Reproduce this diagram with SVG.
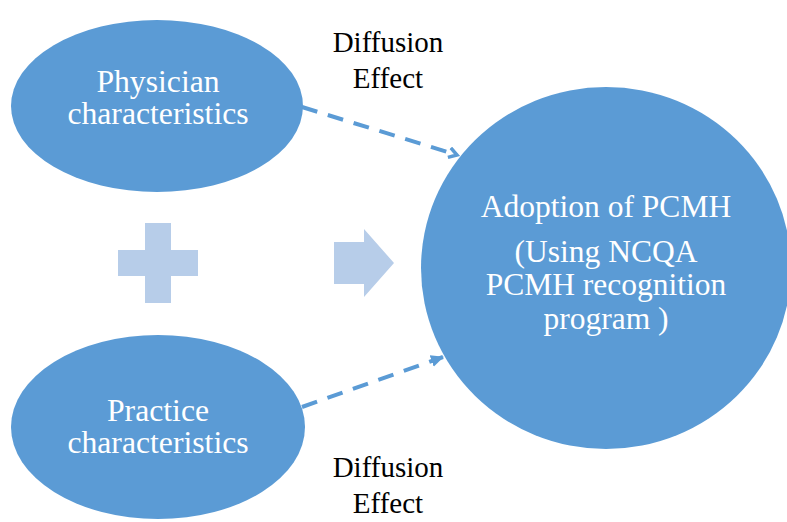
<svg xmlns="http://www.w3.org/2000/svg" width="787" height="522" viewBox="0 0 787 522">
  <style>
    .node { fill: #5b9bd5; }
    text { font-family: "Liberation Serif", "Times New Roman", serif; text-anchor: middle; }
    .label { fill: #ffffff; font-size: 31.7px; }
    .label-big { fill: #ffffff; font-size: 31.5px; }
    .edge-label { fill: #000000; font-size: 29px; }
    .link { stroke: #5b9bd5; stroke-width: 4; fill: none; stroke-dasharray: 16 11; }
    .deco { fill: #b7cde9; }
  </style>
  <defs>
    <marker id="open-arrow" markerWidth="12" markerHeight="12" refX="9" refY="6" orient="auto" markerUnits="userSpaceOnUse">
      <path d="M1,1 L9,6 L1,11" fill="none" stroke="#5b9bd5" stroke-width="3.5"/>
    </marker>
    <marker id="solid-arrow" markerWidth="14" markerHeight="14" refX="12" refY="7" orient="auto" markerUnits="userSpaceOnUse">
      <path d="M0,1 L13,7 L0,13 Z" fill="#5b9bd5"/>
    </marker>
  </defs>

  <rect width="787" height="522" fill="#ffffff"/>

  <!-- dashed influence links -->
  <g id="connectors">
    <line class="link" x1="302" y1="107" x2="457" y2="155" marker-end="url(#open-arrow)"/>
    <line class="link" x1="302" y1="407" x2="443" y2="357" marker-end="url(#solid-arrow)"/>
  </g>

  <g id="physician">
    <ellipse class="node" cx="157" cy="106" rx="146" ry="86"/>
    <text class="label" x="158" y="92">Physician</text>
    <text class="label" x="158" y="124">characteristics</text>
  </g>

  <g id="practice">
    <ellipse class="node" cx="158" cy="427" rx="147" ry="92"/>
    <text class="label" x="158" y="421">Practice</text>
    <text class="label" x="158" y="453">characteristics</text>
  </g>

  <g id="adoption">
    <ellipse class="node" cx="606" cy="268" rx="185" ry="181"/>
    <text class="label-big" x="606" y="217">Adoption of PCMH</text>
    <text class="label-big" x="606" y="262">(Using NCQA</text>
    <text class="label-big" x="606" y="295">PCMH recognition</text>
    <text class="label-big" x="606" y="329">program )</text>
  </g>

  <g id="plus-sign">
    <path class="deco" d="M145,223 H171 V250 H198 V276 H171 V303 H145 V276 H118 V250 H145 Z"/>
  </g>

  <g id="right-arrow">
    <path class="deco" d="M334,242 H364 V229 L394,263 L364,297 V284 H334 Z"/>
  </g>

  <g id="diffusion-top">
    <text class="edge-label" x="388" y="52">Diffusion</text>
    <text class="edge-label" x="388" y="88">Effect</text>
  </g>

  <g id="diffusion-bottom">
    <text class="edge-label" x="388" y="477">Diffusion</text>
    <text class="edge-label" x="388" y="513">Effect</text>
  </g>
</svg>
